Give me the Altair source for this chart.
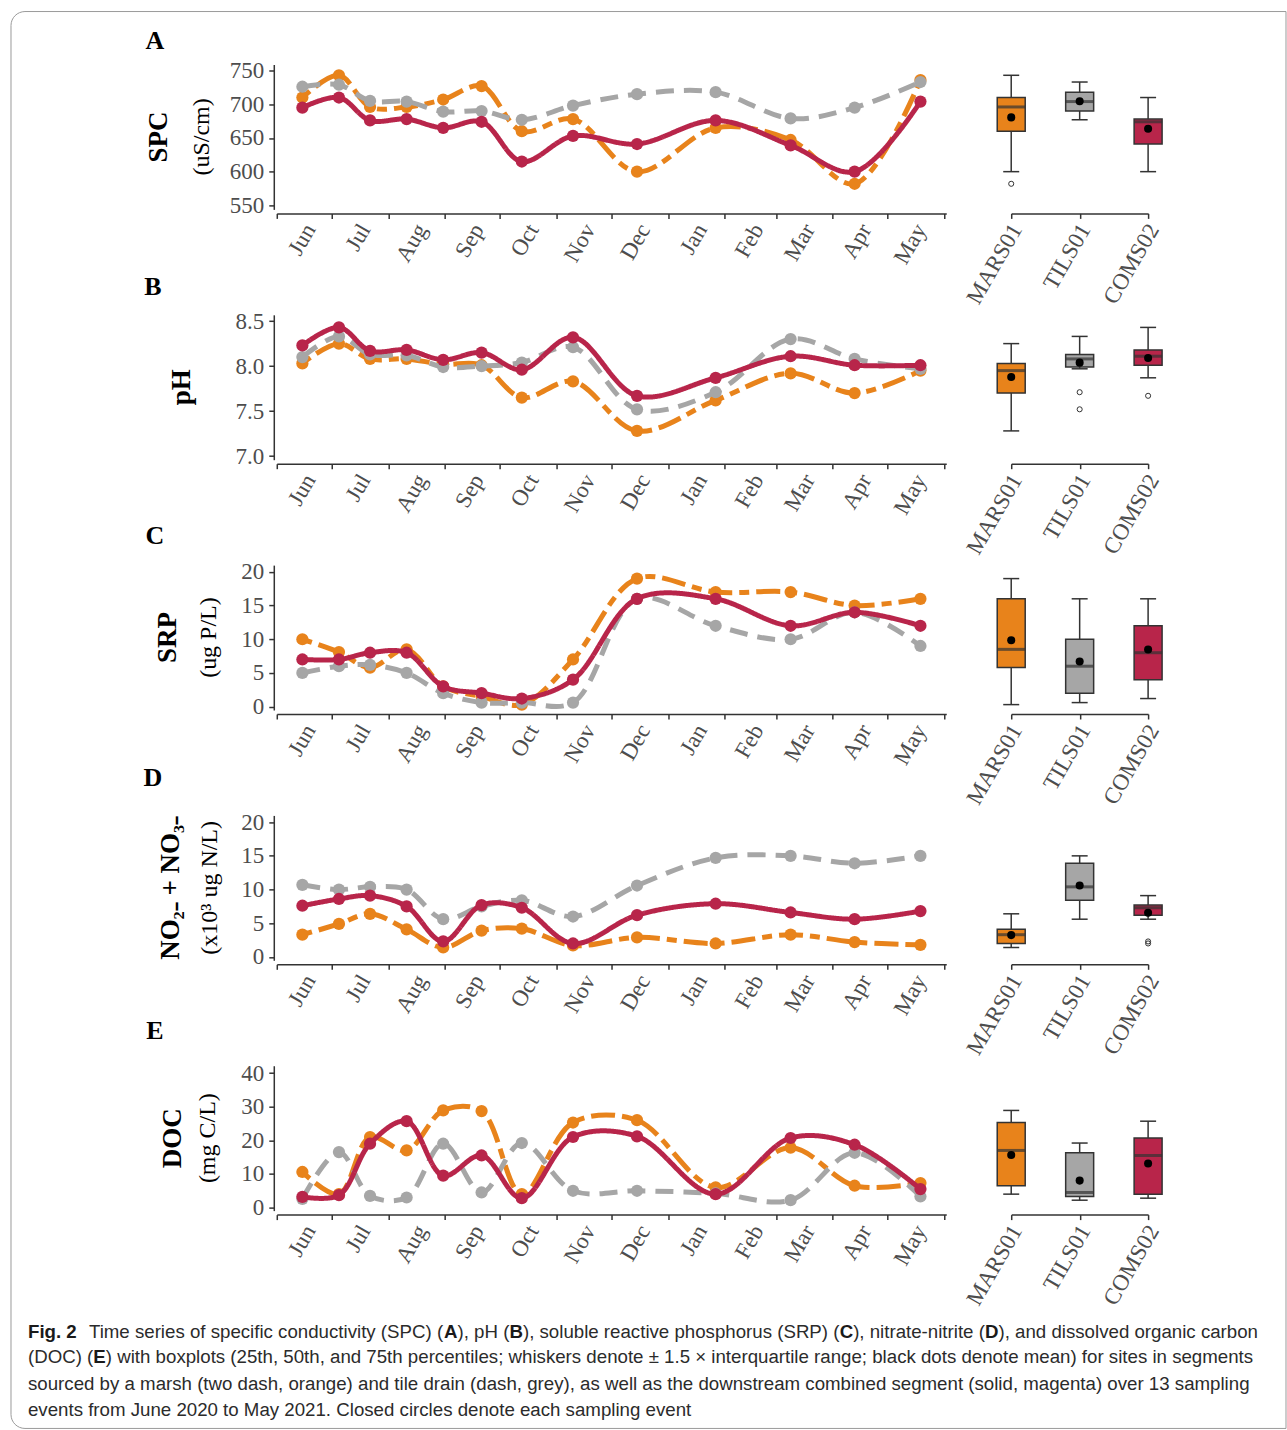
import altair as alt
import pandas as pd

# ---- sampling events (UTC dates), June 2020 - May 2021 ----
dates = ["2020-06-15", "2020-07-05", "2020-07-22", "2020-08-11", "2020-08-31",
         "2020-09-21", "2020-10-13", "2020-11-10", "2020-12-15", "2021-01-27",
         "2021-03-09", "2021-04-13", "2021-05-19"]

sites = ["MARS01", "TILS01", "COMS02"]
site_colors = ["#E8831B", "#A6A6A6", "#B8254A"]

# ---- specific conductivity (uS/cm) ----
spc_mars = [710, 743, 696, 696, 707, 727, 660, 678, 600, 665, 647, 582, 736]
spc_tils = [726, 729, 705, 704, 689, 690, 677, 698, 715, 718, 679, 695, 733]
spc_coms = [695, 710, 676, 678, 665, 674, 615, 653, 641, 676, 639, 600, 704]

# ---- pH ----
ph_mars = [8.03, 8.25, 8.08, 8.08, 8.02, 8.01, 7.65, 7.83, 7.28, 7.62, 7.92, 7.70, 7.95]
ph_tils = [8.10, 8.33, 8.13, 8.12, 7.99, 8.00, 8.04, 8.21, 7.52, 7.71, 8.30, 8.08, 7.97]
ph_coms = [8.23, 8.43, 8.17, 8.18, 8.07, 8.15, 7.96, 8.32, 7.67, 7.87, 8.11, 8.01, 8.01]

# ---- soluble reactive phosphorus (ug P/L) ----
srp_mars = [10.0, 8.1, 5.8, 8.5, 3.0, 1.5, 0.3, 7.0, 19.0, 17.0, 17.0, 15.0, 16.0]
srp_tils = [5.0, 6.0, 6.2, 5.0, 2.0, 0.6, 0.6, 0.6, 16.0, 12.0, 10.0, 14.0, 9.0]
srp_coms = [7.0, 7.0, 8.0, 8.0, 3.0, 2.0, 1.2, 4.0, 16.0, 16.0, 12.0, 14.0, 12.0]

# ---- nitrate-nitrite (x10^3 ug N/L) ----
no_mars = [3.3, 4.9, 6.4, 4.1, 1.4, 3.9, 4.2, 1.7, 2.9, 2.0, 3.3, 2.2, 1.8]
no_tils = [10.7, 10.0, 10.4, 10.0, 5.6, 7.5, 8.4, 6.0, 10.6, 14.7, 15.0, 13.9, 15.0]
no_coms = [7.6, 8.6, 9.1, 7.5, 2.3, 7.7, 7.3, 2.0, 6.2, 7.9, 6.6, 5.6, 6.8]

# ---- dissolved organic carbon (mg C/L) ----
doc_mars = [10.6, 4.0, 21.0, 17.0, 28.9, 28.7, 4.0, 25.3, 26.0, 6.0, 17.8, 6.5, 7.3]
doc_tils = [2.6, 16.5, 3.5, 3.0, 19.0, 4.5, 19.2, 5.0, 5.0, 4.2, 2.2, 16.3, 3.3]
doc_coms = [3.2, 3.7, 19.0, 25.7, 9.5, 15.5, 2.8, 21.0, 21.2, 4.0, 20.7, 18.7, 5.5]

# ---- caption, as runs of (text, bold) per line ----
caption_runs = [
    [("Time series of specific conductivity (SPC) (", False), ("A", True), ("), pH (", False),
     ("B", True), ("), soluble reactive phosphorus (SRP) (", False), ("C", True),
     ("), nitrate-nitrite (", False), ("D", True), ("), and dissolved organic carbon", False)],
    [("(DOC) (", False), ("E", True),
     (") with boxplots (25th, 50th, and 75th percentiles; whiskers denote \u00b1 1.5 \u00d7 "
      "interquartile range; black dots denote mean) for sites in segments", False)],
    [("sourced by a marsh (two dash, orange) and tile drain (dash, grey), as well as the "
      "downstream combined segment (solid, magenta) over 13 sampling", False)],
    [("events from June 2020 to May 2021. Closed circles denote each sampling event", False)],
]

SERIF = "Liberation Serif"
SANS = "Liberation Sans"
INK = "#333333"
CAP_SIZE = 18.7

# advance widths of Liberation Sans (1/1000 em), used to place bold runs in the caption
ADV = dict(zip("abcdefghijklmnopqrstuvwxyz",
               [556, 556, 500, 556, 556, 278, 556, 556, 222, 222, 500, 222, 833,
                556, 556, 556, 556, 333, 500, 278, 556, 500, 722, 500, 500, 500]))
ADV.update({"A": 667, "B": 667, "C": 722, "D": 722, "E": 667, "H": 722, "O": 778,
            "P": 667, "R": 722, "S": 667, "T": 611, " ": 278, "(": 333, ")": 333,
            ",": 278, "-": 333, ".": 278})
ADV_BOLD = {"A": 722, "B": 722, "C": 722, "D": 722, "E": 667}


def run_width(text, bold):
    table = ADV_BOLD if bold else ADV
    return sum(table.get(c, 556) for c in text) * CAP_SIZE / 1000.0


ROW_W, ROW_H, BOX_W = 670, 145, 137
ROW_STEP = 250.5
TICK_FONT = 23
line_dash = [[10, 7, 24, 7], [18, 10], [1, 0]]

panels = [
    dict(letter="A", titles=["SPC", "(uS/cm)"], vals=(spc_mars, spc_tils, spc_coms),
         domain=[544, 759], ticks=[550, 600, 650, 700, 750], fmt="d",
         letter_pos=(-122, -24), title_x=(-118, -75)),
    dict(letter="B", titles=["pH"], vals=(ph_mars, ph_tils, ph_coms),
         domain=[6.96, 8.57], ticks=[7.0, 7.5, 8.0, 8.5], fmt=".1f",
         letter_pos=(-124, -28), title_x=(-95,)),
    dict(letter="C", titles=["SRP", "(ug P/L)"], vals=(srp_mars, srp_tils, srp_coms),
         domain=[-0.5, 21.0], ticks=[0, 5, 10, 15, 20], fmt="d",
         letter_pos=(-122, -29), title_x=(-109, -68)),
    dict(letter="D", titles=["NO\u2082\u208b + NO\u2083\u208b", "(x10\u00b3 ug N/L)"],
         vals=(no_mars, no_tils, no_coms),
         domain=[-0.5, 21.0], ticks=[0, 5, 10, 15, 20], fmt="d",
         letter_pos=(-124, -37), title_x=(-106, -67)),
    dict(letter="E", titles=["DOC", "(mg C/L)"], vals=(doc_mars, doc_tils, doc_coms),
         domain=[-0.9, 42.2], ticks=[0, 10, 20, 30, 40], fmt="d",
         letter_pos=(-122, -35), title_x=(-104, -69)),
]

month_ticks = [alt.DateTime(year=2020 + (5 + i) // 12, month=(5 + i) % 12 + 1, date=1, utc=True)
               for i in range(13)]
x_scale = alt.Scale(type="utc", domain=[alt.DateTime(year=2020, month=6, date=1, utc=True),
                                        alt.DateTime(year=2021, month=6, date=2, hours=3, utc=True)])
x_axis = alt.Axis(values=month_ticks,
                  labelExpr="datum.value < utc(2021, 5, 1) ? utcFormat(datum.value, '%b') : ''",
                  labelAngle=-60, labelAlign="right", labelBaseline="middle", labelOffset=33,
                  offset=4, tickSize=5, labelPadding=7, title=None, labelOverlap=False,
                  labelFlush=False)


def text_layer(text, x, y, size, weight="normal", angle=0, align="center", font=SERIF, color="black"):
    return alt.Chart(alt.Data(values=[{"t": text}])).mark_text(
        font=font, fontSize=size, fontWeight=weight, angle=angle, align=align,
        baseline="middle", color=color
    ).encode(x=alt.value(x), y=alt.value(y), text="t:N")


def long_table(vals):
    return pd.DataFrame({
        "date": dates * 3,
        "site": [s for s in sites for _ in dates],
        "value": list(vals[0]) + list(vals[1]) + list(vals[2]),
    })


rows = []
for k, p in enumerate(panels):
    df = long_table(p["vals"])
    y_scale = alt.Scale(domain=p["domain"], nice=False, zero=False)
    y_enc = alt.Y("value:Q", scale=y_scale,
                  axis=alt.Axis(values=p["ticks"], format=p["fmt"], offset=3, tickSize=5,
                                labelPadding=5, title=None, grid=False))
    x_enc = alt.X("date:T", scale=x_scale, axis=x_axis)

    layers = []
    if k == 0:
        # rounded frame around the whole figure
        layers.append(alt.Chart(alt.Data(values=[{}])).mark_rect(
            fillOpacity=0, stroke="#9a9a9a", strokeWidth=1,
            cornerRadiusTopLeft=14, cornerRadiusBottomLeft=14
        ).encode(x=alt.value(-266), x2=alt.value(1010), y=alt.value(-53), y2=alt.value(1365)))

    lx, ly = p["letter_pos"]
    layers.append(text_layer(p["letter"], lx, ly, 26, weight="bold"))
    for i, (t, tx) in enumerate(zip(p["titles"], p["title_x"])):
        layers.append(text_layer(t, tx, ROW_H / 2, 27 if i == 0 else 24,
                                 weight="bold" if i == 0 else "normal", angle=270))

    for site, color, dash in zip(sites, site_colors, line_dash):
        sub = alt.Chart(df).transform_filter(alt.datum.site == site)
        layers.append(sub.mark_line(interpolate="catmull-rom", strokeWidth=5, color=color,
                                    strokeDash=dash).encode(x=x_enc, y=y_enc))
        layers.append(sub.mark_circle(size=150, opacity=1, color=color).encode(x=x_enc, y=y_enc))

    if k == len(panels) - 1:
        cap_y = [266, 292, 319, 345]
        layers.append(text_layer("Fig. 2", -249, cap_y[0], CAP_SIZE, weight="bold", align="left",
                                 font=SANS, color="#1a1a1a"))
        for j, runs in enumerate(caption_runs):
            cx = -188 if j == 0 else -249
            for text, bold in runs:
                layers.append(text_layer(text, cx, cap_y[j], CAP_SIZE,
                                         weight="bold" if bold else "normal", align="left",
                                         font=SANS, color="#1a1a1a" if bold else "#2b2b2b"))
                cx += run_width(text, bold)

    left = alt.layer(*layers).properties(width=ROW_W, height=ROW_H)

    bx = alt.X("site:N", sort=sites, scale=alt.Scale(type="point", padding=0),
               axis=alt.Axis(labelAngle=-60, labelAlign="right", labelBaseline="middle",
                             labelOffset=5, offset=4, tickSize=5, labelPadding=7, title=None,
                             labelOverlap=False))
    by = alt.Y("value:Q", scale=y_scale, axis=None)
    box = alt.Chart(df).mark_boxplot(
        extent=1.5, size=28, outliers=False,
        box={"stroke": INK, "strokeWidth": 1.5},
        median={"color": INK, "thickness": 3},
        rule={"color": INK, "strokeWidth": 1.5},
        ticks={"color": INK, "size": 16, "thickness": 1.5},
    ).encode(x=bx, y=by,
             color=alt.Color("site:N", scale=alt.Scale(domain=sites, range=site_colors), legend=None))
    # points beyond 1.5 x IQR, drawn as open circles
    outliers = alt.Chart(df).transform_joinaggregate(
        q1="q1(value)", q3="q3(value)", groupby=["site"]
    ).transform_calculate(
        iqr="datum.q3 - datum.q1"
    ).transform_filter(
        "datum.value < datum.q1 - 1.5 * datum.iqr || datum.value > datum.q3 + 1.5 * datum.iqr"
    ).mark_point(shape="circle", filled=False, color=INK, size=26, strokeWidth=1, opacity=1).encode(
        x=bx, y=by)
    mean_dot = alt.Chart(df).mark_circle(color="black", size=65, opacity=1).encode(
        x=bx, y=alt.Y("mean(value):Q", scale=y_scale, axis=None))
    right = alt.layer(box, outliers, mean_dot).properties(width=BOX_W, height=ROW_H)

    rows.append(alt.hconcat(left, right, spacing=65, bounds="flush"))

chart = alt.vconcat(*rows, spacing=ROW_STEP, bounds="flush").properties(
    padding={"left": 10, "top": 10, "right": 0, "bottom": 0}
).configure_view(strokeWidth=0).configure_axis(
    domainColor=INK, domainWidth=1.5, tickColor=INK, tickWidth=1.5,
    labelColor="#4d4d4d", labelFont=SERIF, labelFontSize=TICK_FONT, grid=False
)

chart.save("out.html", embed_options={"renderer": "svg", "actions": False})
